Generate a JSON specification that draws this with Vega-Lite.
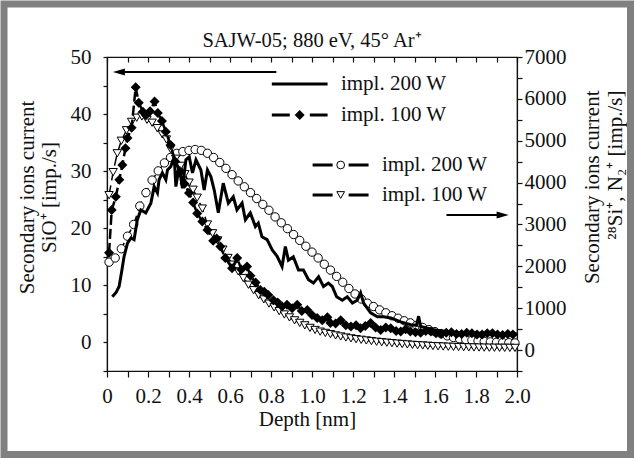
{
"$schema": "https://vega.github.io/schema/vega-lite/v6.json",
"width": 410, "height": 314,
"autosize": {"type": "none"},
"padding": {"left": 107, "top": 57, "right": 118, "bottom": 88},
"background": "white",
"title": {"text": "SAJW-05; 880 eV, 45° Ar⁺", "font": "Liberation Serif", "fontSize": 20.5, "fontWeight": "normal", "color": "#111", "baseline": "alphabetic", "offset": 0, "dy": 67, "anchor": "middle", "frame": "group"},
"config": {
  "font": "Liberation Serif",
  "view": {"stroke": "#111", "strokeWidth": 1.2},
  "axis": {"labelFont": "Liberation Serif", "titleFont": "Liberation Serif", "labelFontSize": 21, "titleFontSize": 21, "titleFontWeight": "normal", "labelColor": "#111", "titleColor": "#111", "domainColor": "#111", "tickColor": "#111", "grid": false, "domainWidth": 1.2, "tickWidth": 1.2, "labelOverlap": false, "labelFlush": false}
},
"datasets": {
  "one": [{"k": 1}],
  "solid": [{"d":0.026,"v":8.0},{"d":0.045,"v":8.8},{"d":0.059,"v":9.8},{"d":0.072,"v":12.5},{"d":0.083,"v":15.0},{"d":0.1,"v":17.4},{"d":0.117,"v":18.3},{"d":0.132,"v":18.0},{"d":0.148,"v":21.5},{"d":0.165,"v":23.2},{"d":0.189,"v":22.7},{"d":0.214,"v":24.4},{"d":0.23,"v":27.3},{"d":0.246,"v":26.2},{"d":0.254,"v":28.5},{"d":0.27,"v":29.7},{"d":0.287,"v":28.5},{"d":0.295,"v":30.2},{"d":0.311,"v":30.8},{"d":0.328,"v":32.5},{"d":0.336,"v":27.3},{"d":0.352,"v":30.8},{"d":0.368,"v":27.0},{"d":0.385,"v":32.0},{"d":0.401,"v":32.5},{"d":0.417,"v":29.7},{"d":0.434,"v":32.0},{"d":0.458,"v":30.2},{"d":0.474,"v":26.7},{"d":0.49,"v":30.2},{"d":0.507,"v":29.0},{"d":0.523,"v":26.7},{"d":0.543,"v":22.7},{"d":0.567,"v":27.9},{"d":0.592,"v":24.4},{"d":0.616,"v":25.5},{"d":0.634,"v":23.2},{"d":0.659,"v":24.4},{"d":0.675,"v":21.5},{"d":0.699,"v":22.7},{"d":0.724,"v":20.3},{"d":0.738,"v":20.9},{"d":0.756,"v":18.5},{"d":0.781,"v":18.0},{"d":0.806,"v":16.2},{"d":0.83,"v":15.1},{"d":0.854,"v":13.3},{"d":0.87,"v":16.8},{"d":0.885,"v":14.4},{"d":0.909,"v":15.0},{"d":0.934,"v":12.7},{"d":0.958,"v":12.7},{"d":0.983,"v":11.0},{"d":1.007,"v":10.4},{"d":1.032,"v":11.5},{"d":1.056,"v":9.8},{"d":1.08,"v":10.4},{"d":1.099,"v":9.8},{"d":1.12,"v":8.0},{"d":1.148,"v":7.4},{"d":1.172,"v":8.0},{"d":1.197,"v":6.9},{"d":1.221,"v":7.4},{"d":1.237,"v":8.7},{"d":1.252,"v":6.9},{"d":1.286,"v":5.2},{"d":1.319,"v":4.5},{"d":1.35,"v":4.5},{"d":1.384,"v":4.3},{"d":1.433,"v":3.6},{"d":1.482,"v":3.1},{"d":1.51,"v":3.0},{"d":1.52,"v":4.6},{"d":1.53,"v":2.8},{"d":1.6,"v":2.2},{"d":1.677,"v":1.8},{"d":1.775,"v":1.7},{"d":1.873,"v":1.5},{"d":2.0,"v":1.5}],
  "diamonds": [{"d":0.01,"v":15.7},{"d":0.023,"v":23.2},{"d":0.043,"v":25.5},{"d":0.06,"v":28.5},{"d":0.075,"v":31.1},{"d":0.09,"v":34.0},{"d":0.1,"v":35.8},{"d":0.12,"v":37.6},{"d":0.14,"v":44.7},{"d":0.155,"v":42.0},{"d":0.175,"v":40.4},{"d":0.19,"v":39.8},{"d":0.21,"v":40.5},{"d":0.232,"v":42.2},{"d":0.248,"v":40.2},{"d":0.268,"v":38.8},{"d":0.287,"v":36.9},{"d":0.31,"v":34.6},{"d":0.333,"v":31.7},{"d":0.355,"v":29.8},{"d":0.378,"v":27.8},{"d":0.4,"v":26.2},{"d":0.42,"v":24.5},{"d":0.44,"v":22.6},{"d":0.465,"v":21.2},{"d":0.49,"v":19.7},{"d":0.518,"v":17.8},{"d":0.535,"v":18.2},{"d":0.553,"v":16.8},{"d":0.577,"v":14.8},{"d":0.61,"v":13.0},{"d":0.635,"v":14.8},{"d":0.655,"v":12.8},{"d":0.683,"v":13.3},{"d":0.7,"v":11.7},{"d":0.725,"v":10.5},{"d":0.748,"v":9.2},{"d":0.767,"v":8.9},{"d":0.787,"v":8.3},{"d":0.812,"v":7.4},{"d":0.833,"v":7.0},{"d":0.854,"v":6.3},{"d":0.878,"v":6.6},{"d":0.903,"v":6.0},{"d":0.928,"v":6.6},{"d":0.95,"v":5.5},{"d":0.977,"v":5.7},{"d":1.0,"v":4.8},{"d":1.025,"v":4.3},{"d":1.05,"v":3.9},{"d":1.075,"v":4.4},{"d":1.09,"v":3.4},{"d":1.115,"v":3.3},{"d":1.14,"v":3.9},{"d":1.165,"v":3.0},{"d":1.19,"v":2.8},{"d":1.215,"v":3.0},{"d":1.237,"v":2.5},{"d":1.26,"v":2.9},{"d":1.286,"v":3.4},{"d":1.31,"v":2.6},{"d":1.335,"v":2.2},{"d":1.36,"v":2.6},{"d":1.384,"v":2.5},{"d":1.41,"v":2.0},{"d":1.433,"v":1.9},{"d":1.457,"v":2.3},{"d":1.48,"v":1.9},{"d":1.505,"v":1.8},{"d":1.53,"v":1.7},{"d":1.555,"v":2.0},{"d":1.58,"v":1.9},{"d":1.605,"v":1.6},{"d":1.63,"v":1.5},{"d":1.655,"v":1.7},{"d":1.68,"v":1.8},{"d":1.705,"v":1.5},{"d":1.73,"v":1.5},{"d":1.755,"v":1.7},{"d":1.78,"v":1.6},{"d":1.805,"v":1.4},{"d":1.83,"v":1.4},{"d":1.855,"v":1.6},{"d":1.88,"v":1.6},{"d":1.905,"v":1.4},{"d":1.93,"v":1.3},{"d":1.955,"v":1.5},{"d":1.98,"v":1.4}],
  "circles": [{"d":0.01,"v":2100},{"d":0.04,"v":2200},{"d":0.07,"v":2420},{"d":0.1,"v":2720},{"d":0.13,"v":3000},{"d":0.16,"v":3440},{"d":0.19,"v":3760},{"d":0.22,"v":4060},{"d":0.25,"v":4280},{"d":0.28,"v":4470},{"d":0.31,"v":4600},{"d":0.34,"v":4700},{"d":0.37,"v":4740},{"d":0.4,"v":4770},{"d":0.43,"v":4790},{"d":0.46,"v":4770},{"d":0.49,"v":4700},{"d":0.52,"v":4600},{"d":0.55,"v":4480},{"d":0.58,"v":4340},{"d":0.61,"v":4190},{"d":0.64,"v":4040},{"d":0.67,"v":3900},{"d":0.7,"v":3760},{"d":0.73,"v":3620},{"d":0.76,"v":3480},{"d":0.79,"v":3340},{"d":0.82,"v":3180},{"d":0.85,"v":3040},{"d":0.88,"v":2900},{"d":0.91,"v":2760},{"d":0.94,"v":2620},{"d":0.97,"v":2480},{"d":1.0,"v":2340},{"d":1.03,"v":2200},{"d":1.06,"v":2050},{"d":1.09,"v":1910},{"d":1.12,"v":1760},{"d":1.15,"v":1620},{"d":1.18,"v":1470},{"d":1.21,"v":1340},{"d":1.24,"v":1220},{"d":1.27,"v":1120},{"d":1.3,"v":1040},{"d":1.33,"v":960},{"d":1.36,"v":890},{"d":1.39,"v":820},{"d":1.42,"v":760},{"d":1.45,"v":700},{"d":1.48,"v":650},{"d":1.51,"v":590},{"d":1.54,"v":540},{"d":1.57,"v":490},{"d":1.6,"v":440},{"d":1.63,"v":390},{"d":1.66,"v":340},{"d":1.69,"v":300},{"d":1.72,"v":270},{"d":1.75,"v":250},{"d":1.78,"v":235},{"d":1.81,"v":220},{"d":1.84,"v":205},{"d":1.87,"v":195},{"d":1.9,"v":185},{"d":1.93,"v":180},{"d":1.96,"v":175},{"d":1.99,"v":170}],
  "triangles": [{"d":0.01,"v":3700},{"d":0.03,"v":4250},{"d":0.05,"v":4700},{"d":0.07,"v":5000},{"d":0.095,"v":5250},{"d":0.12,"v":5450},{"d":0.145,"v":5550},{"d":0.17,"v":5580},{"d":0.195,"v":5500},{"d":0.22,"v":5430},{"d":0.245,"v":5300},{"d":0.27,"v":5150},{"d":0.29,"v":5030},{"d":0.31,"v":4800},{"d":0.335,"v":4570},{"d":0.36,"v":4400},{"d":0.38,"v":4200},{"d":0.4,"v":4000},{"d":0.42,"v":3830},{"d":0.44,"v":3640},{"d":0.465,"v":3380},{"d":0.49,"v":3000},{"d":0.515,"v":2790},{"d":0.54,"v":2620},{"d":0.565,"v":2400},{"d":0.59,"v":2200},{"d":0.615,"v":2040},{"d":0.64,"v":1880},{"d":0.665,"v":1720},{"d":0.69,"v":1560},{"d":0.715,"v":1430},{"d":0.74,"v":1310},{"d":0.765,"v":1210},{"d":0.79,"v":1110},{"d":0.815,"v":1020},{"d":0.84,"v":930},{"d":0.865,"v":850},{"d":0.89,"v":780},{"d":0.915,"v":710},{"d":0.94,"v":650},{"d":0.965,"v":590},{"d":0.99,"v":530},{"d":1.015,"v":480},{"d":1.04,"v":440},{"d":1.065,"v":410},{"d":1.09,"v":380},{"d":1.115,"v":350},{"d":1.14,"v":325},{"d":1.165,"v":300},{"d":1.19,"v":280},{"d":1.215,"v":260},{"d":1.24,"v":245},{"d":1.265,"v":230},{"d":1.29,"v":215},{"d":1.315,"v":200},{"d":1.34,"v":188},{"d":1.365,"v":176},{"d":1.39,"v":165},{"d":1.415,"v":155},{"d":1.44,"v":145},{"d":1.465,"v":135},{"d":1.49,"v":125},{"d":1.515,"v":117},{"d":1.54,"v":110},{"d":1.565,"v":103},{"d":1.59,"v":96},{"d":1.615,"v":90},{"d":1.64,"v":85},{"d":1.665,"v":80},{"d":1.69,"v":76},{"d":1.715,"v":72},{"d":1.74,"v":69},{"d":1.765,"v":66},{"d":1.79,"v":63},{"d":1.815,"v":61},{"d":1.84,"v":59},{"d":1.865,"v":57},{"d":1.89,"v":56},{"d":1.915,"v":55},{"d":1.94,"v":54},{"d":1.965,"v":53},{"d":1.99,"v":52}]
},
"layer": [
  {
    "layer": [
      {
        "encoding": {
          "x": {"field": "d", "type": "quantitative", "scale": {"domain": [0, 2], "nice": false, "zero": false},
                "axis": {"orient": "top", "values": [0,0.1,0.2,0.3,0.4,0.5,0.6,0.7,0.8,0.9,1,1.1,1.2,1.3,1.4,1.5,1.6,1.7,1.8,1.9,2], "labels": false, "tickSize": -5, "title": null}},
          "y": {"field": "v", "type": "quantitative", "scale": {"domain": [-500, 7000], "nice": false, "zero": false},
                "axis": {"orient": "right", "values": [-500,0,500,1000,1500,2000,2500,3000,3500,4000,4500,5000,5500,6000,6500,7000], "labelExpr": "datum.value % 1000 == 0 ? format(datum.value, 'd') : ''", "tickSize": 5, "labelPadding": 2, "title": ["Secondary ions current", "²⁸Si⁺, N₂⁺ [imp./s]"], "titleAngle": 270, "titleAlign": "right", "titleBaseline": "alphabetic", "titleX": 81, "titleY": 33, "titleLineHeight": 23}}
        },
        "layer": [
          {"data": {"name": "circles"}, "mark": {"type": "line", "stroke": "black", "strokeWidth": 1.5, "strokeDash": [10, 5]}},
          {"data": {"name": "circles"}, "mark": {"type": "point", "shape": "circle", "filled": true, "fill": "white", "stroke": "black", "strokeWidth": 1, "size": 70, "opacity": 1}},
          {"data": {"name": "triangles"}, "mark": {"type": "line", "stroke": "black", "strokeWidth": 1.5, "strokeDash": [10, 5]}},
          {"data": {"name": "triangles"}, "mark": {"type": "point", "shape": "triangle-down", "filled": true, "fill": "white", "stroke": "black", "strokeWidth": 1, "size": 70, "opacity": 1}}
        ]
      },
      {
        "encoding": {
          "x": {"datum": 1.003, "type": "quantitative", "scale": {"domain": [0, 2], "nice": false, "zero": false},
                "axis": {"orient": "top", "values": [0,0.1,0.2,0.3,0.4,0.5,0.6,0.7,0.8,0.9,1,1.1,1.2,1.3,1.4,1.5,1.6,1.7,1.8,1.9,2], "labels": false, "tickSize": -5, "title": null}},
          "y": {"datum": 4421, "type": "quantitative", "scale": {"domain": [-500, 7000], "nice": false, "zero": false},
                "axis": {"orient": "right", "values": [-500,0,500,1000,1500,2000,2500,3000,3500,4000,4500,5000,5500,6000,6500,7000], "labelExpr": "datum.value % 1000 == 0 ? format(datum.value, 'd') : ''", "tickSize": 5, "labelPadding": 2, "title": ["Secondary ions current", "²⁸Si⁺, N₂⁺ [imp./s]"], "titleAngle": 270, "titleAlign": "right", "titleBaseline": "alphabetic", "titleX": 81, "titleY": 33, "titleLineHeight": 23}}
        },
        "layer": [
          {"data": {"name": "one"}, "mark": {"type": "rule", "color": "black", "strokeWidth": 3, "strokeDash": [20, 16]}, "encoding": {"x2": {"datum": 1.276}}},
          {"data": {"name": "one"}, "mark": {"type": "point", "shape": "circle", "filled": true, "fill": "white", "stroke": "black", "strokeWidth": 1, "size": 60, "opacity": 1}, "encoding": {"x": {"datum": 1.14}}},
          {"data": {"name": "one"}, "mark": {"type": "text", "text": "impl. 200 W", "font": "Liberation Serif", "fontSize": 21, "align": "left", "baseline": "middle", "color": "#111"}, "encoding": {"x": {"datum": 1.341}}},
          {"data": {"name": "one"}, "mark": {"type": "rule", "color": "black", "strokeWidth": 3, "strokeDash": [20, 16]}, "encoding": {"x2": {"datum": 1.276}, "y": {"datum": 3704}}},
          {"data": {"name": "one"}, "mark": {"type": "point", "shape": "triangle-down", "filled": true, "fill": "white", "stroke": "black", "strokeWidth": 1, "size": 60, "opacity": 1}, "encoding": {"x": {"datum": 1.14}, "y": {"datum": 3704}}},
          {"data": {"name": "one"}, "mark": {"type": "text", "text": "impl. 100 W", "font": "Liberation Serif", "fontSize": 21, "align": "left", "baseline": "middle", "color": "#111"}, "encoding": {"x": {"datum": 1.341}, "y": {"datum": 3704}}},
          {"data": {"name": "one"}, "mark": {"type": "rule", "color": "black", "strokeWidth": 2}, "encoding": {"x": {"datum": 1.656}, "x2": {"datum": 1.93}, "y": {"datum": 3226}}},
          {"data": {"name": "one"}, "mark": {"type": "point", "shape": "M1,0L-1,-0.6L-1,0.6Z", "filled": true, "color": "black", "size": 144, "opacity": 1}, "encoding": {"x": {"datum": 1.93}, "y": {"datum": 3226}}}
        ]
      }
    ]
  },
  {
    "layer": [
      {
        "encoding": {
          "x": {"field": "d", "type": "quantitative", "scale": {"domain": [0, 2], "nice": false, "zero": false},
                "axis": {"orient": "bottom", "values": [0,0.1,0.2,0.3,0.4,0.5,0.6,0.7,0.8,0.9,1,1.1,1.2,1.3,1.4,1.5,1.6,1.7,1.8,1.9,2], "labelExpr": "round(datum.value*10) % 2 == 0 ? (datum.value == 0 ? '0' : format(datum.value, '.1f')) : ''", "tickSize": 6, "labelPadding": 8, "title": "Depth [nm]", "titleBaseline": "alphabetic", "titleY": 54, "titleX": 200}},
          "y": {"field": "v", "type": "quantitative", "scale": {"domain": [-5, 50], "nice": false, "zero": false},
                "axis": {"orient": "left", "values": [-5,0,5,10,15,20,25,30,35,40,45,50], "labelExpr": "datum.value % 10 == 0 ? format(datum.value, 'd') : ''", "tickSize": 4, "labelPadding": 12, "title": ["Secondary ions current", "SiO⁺ [imp./s]"], "titleAngle": 270, "titleAlign": "center", "titleBaseline": "alphabetic", "titleX": -74, "titleY": 140, "titleLineHeight": 22}}
        },
        "layer": [
          {"data": {"name": "solid"}, "mark": {"type": "line", "stroke": "black", "strokeWidth": 3}},
          {"data": {"name": "diamonds"}, "mark": {"type": "line", "stroke": "black", "strokeWidth": 2.5, "strokeDash": [10, 4]}},
          {"data": {"name": "diamonds"}, "mark": {"type": "point", "shape": "diamond", "filled": true, "color": "black", "size": 100, "opacity": 1}}
        ]
      },
      {
        "encoding": {
          "x": {"datum": 0.804, "type": "quantitative", "scale": {"domain": [0, 2], "nice": false, "zero": false},
                "axis": {"orient": "bottom", "values": [0,0.1,0.2,0.3,0.4,0.5,0.6,0.7,0.8,0.9,1,1.1,1.2,1.3,1.4,1.5,1.6,1.7,1.8,1.9,2], "labelExpr": "round(datum.value*10) % 2 == 0 ? (datum.value == 0 ? '0' : format(datum.value, '.1f')) : ''", "tickSize": 6, "labelPadding": 8, "title": "Depth [nm]", "titleBaseline": "alphabetic", "titleY": 54, "titleX": 200}},
          "y": {"datum": 45.27, "type": "quantitative", "scale": {"domain": [-5, 50], "nice": false, "zero": false},
                "axis": {"orient": "left", "values": [-5,0,5,10,15,20,25,30,35,40,45,50], "labelExpr": "datum.value % 10 == 0 ? format(datum.value, 'd') : ''", "tickSize": 4, "labelPadding": 12, "title": ["Secondary ions current", "SiO⁺ [imp./s]"], "titleAngle": 270, "titleAlign": "center", "titleBaseline": "alphabetic", "titleX": -74, "titleY": 140, "titleLineHeight": 22}}
        },
        "layer": [
          {"data": {"name": "one"}, "mark": {"type": "rule", "color": "black", "strokeWidth": 3}, "encoding": {"x2": {"datum": 1.076}}},
          {"data": {"name": "one"}, "mark": {"type": "text", "text": "impl. 200 W", "font": "Liberation Serif", "fontSize": 21, "align": "left", "baseline": "middle", "color": "#111"}, "encoding": {"x": {"datum": 1.141}}},
          {"data": {"name": "one"}, "mark": {"type": "rule", "color": "black", "strokeWidth": 3, "strokeDash": [18, 20]}, "encoding": {"x2": {"datum": 1.076}, "y": {"datum": 39.84}}},
          {"data": {"name": "one"}, "mark": {"type": "point", "shape": "diamond", "filled": true, "color": "black", "size": 100, "opacity": 1}, "encoding": {"x": {"datum": 0.94}, "y": {"datum": 39.84}}},
          {"data": {"name": "one"}, "mark": {"type": "text", "text": "impl. 100 W", "font": "Liberation Serif", "fontSize": 21, "align": "left", "baseline": "middle", "color": "#111"}, "encoding": {"x": {"datum": 1.141}, "y": {"datum": 39.84}}},
          {"data": {"name": "one"}, "mark": {"type": "rule", "color": "black", "strokeWidth": 2}, "encoding": {"x": {"datum": 0.058}, "x2": {"datum": 0.826}, "y": {"datum": 47.37}}},
          {"data": {"name": "one"}, "mark": {"type": "point", "shape": "M-1,0L1,-0.6L1,0.6Z", "filled": true, "color": "black", "size": 144, "opacity": 1}, "encoding": {"x": {"datum": 0.058}, "y": {"datum": 47.37}}},
          {"data": {"name": "one"}, "mark": {"type": "rect", "fillOpacity": 0, "stroke": "#808080", "strokeOpacity": 1, "strokeWidth": 7, "clip": false}, "encoding": {"x": {"datum": -0.5024}, "x2": {"datum": 2.5537}, "y": {"datum": 59.285}, "y2": {"datum": -19.63}}}
        ]
      }
    ]
  }
],
"resolve": {"scale": {"y": "independent"}, "axis": {"x": "independent"}}
}
